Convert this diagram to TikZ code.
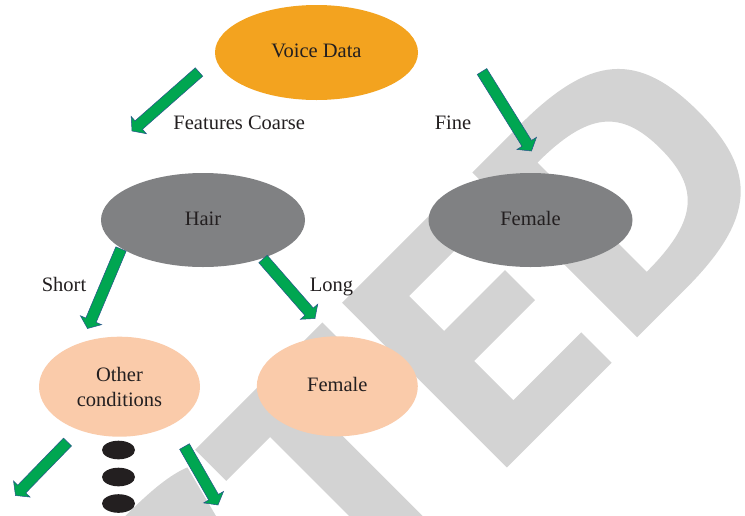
\documentclass[tikz,border=0pt]{standalone}
\usepackage{fontspec}
\setmainfont{Liberation Serif}
\usetikzlibrary{calc,shapes.geometric}

\definecolor{wmgrey}{RGB}{211,211,211}
\definecolor{voiceorange}{RGB}{243,163,31}
\definecolor{nodegrey}{RGB}{128,129,131}
\definecolor{peach}{RGB}{250,203,170}
\definecolor{arrowgreen}{RGB}{0,166,81}
\definecolor{arrowedge}{RGB}{38,84,140}
\definecolor{inkdark}{RGB}{35,31,32}

% block arrow from tail #1 to tip #2
\newcommand{\blockarrow}[2]{%
  \coordinate (hb) at ($(#2)!9pt!(#1)$);
  \filldraw[blockarr]
    ($(#1)!5.6pt!90:(#2)$) -- ($(hb)!5.6pt!90:(#2)$) -- ($(hb)!11.5pt!90:(#2)$)
    -- (#2)
    -- ($(hb)!11.5pt!-90:(#2)$) -- ($(hb)!5.6pt!-90:(#2)$) -- ($(#1)!5.6pt!-90:(#2)$)
    -- cycle;
}

\tikzset{
  txt/.style={text=inkdark, font=\fontsize{20.5}{25}\selectfont},
  bubble/.style={ellipse, inner sep=0pt, txt},
  oneline/.style={text height=14pt, text depth=4pt},
  voice/.style={bubble, oneline, fill=voiceorange, minimum width=203pt, minimum height=95pt},
  darkbubble/.style={bubble, oneline, fill=nodegrey, minimum width=204pt, minimum height=94pt},
  lightbubble/.style={bubble, fill=peach, minimum width=161pt, minimum height=100pt},
  edgelabel/.style={txt, inner sep=0pt, anchor=base},
  blockarr/.style={fill=arrowgreen, draw=arrowedge, line width=0.5pt, line join=miter},
  dotmark/.style={ellipse, fill=inkdark, minimum width=33pt, minimum height=18.6pt, inner sep=0pt},
  wmletter/.style={fill=wmgrey},
  wmframe/.style={shift={(487.2,487.2)}, x={(0.7071pt,0.7071pt)}, y={(-0.7071pt,0.7071pt)}},
}

\begin{document}
\begin{tikzpicture}[x=1pt, y=-1pt]
\useasboundingbox (0,0) rectangle (745,515);
\fill[white] (0,0) rectangle (745,515);

% slanted stamp lettering in the background
\begin{scope}
  \clip (0,0) rectangle (745,515);
  \begin{scope}[wmframe]
    % C (upper terminal only)
    \fill[wmletter] (-198,226) .. controls (-215,233) and (-240,235.5) .. (-275,235.5)
      -- (-345,235.5) -- (-345,100) -- (-212,100) -- (-212,172) -- cycle;
    % T
    \fill[wmletter] (-180,233) -- (0,233) -- (0,189) -- (-66,189) -- (-66,-10)
      -- (-118,-10) -- (-118,189) -- (-180,189) -- cycle;
    % E
    \fill[wmletter] (27.9,0) -- (176,0) -- (176,43) -- (80,43) -- (80,98.5) -- (166,98.5)
      -- (166,141) -- (80,141) -- (80,190.4) -- (172,190.4) -- (172,233) -- (27.9,233) -- cycle;
    % D
    \fill[wmletter, even odd rule]
      (212,0) -- (280,0) .. controls (378.7,0) and (415,31.3) .. (415,116.5)
      .. controls (415,201.7) and (378.7,233) .. (280,233) -- (212,233) -- cycle
      (265,39.5) .. controls (335.9,39.5) and (362,60.3) .. (362,116.75)
      .. controls (362,173.2) and (335.9,194) .. (265,194) -- cycle;
  \end{scope}
\end{scope}

% tree nodes
\node[voice] (voice) at (316.5,52.5) {Voice Data};
\node[darkbubble] (hair) at (203,220) {Hair};
\node[darkbubble] (femfine) at (530.5,220) {Female};
\node[lightbubble, align=center] (other) at (119.5,386.7) {Other\\conditions};
\node[lightbubble, oneline] (femlong) at (337.3,386.3) {Female};

% branch labels
\node[edgelabel] (coarse) at (239.2,129.5) {Features Coarse};
\node[edgelabel] (finelbl) at (453,129.5) {Fine};
\node[edgelabel] (short) at (64,291.5) {Short};
\node[edgelabel] (long) at (331.5,291) {Long};

% continuation dots
\node[dotmark] (dot1) at (118.5,450) {};
\node[dotmark] (dot2) at (118.5,477) {};
\node[dotmark] (dot3) at (118.5,503.5) {};

% arrow end points
\coordinate (a1t) at (199,72);    \coordinate (a1h) at (132,131);
\coordinate (a2t) at (482,71.5);  \coordinate (a2h) at (531.5,151);
\coordinate (a3t) at (121,249);   \coordinate (a3h) at (87.5,328.5);
\coordinate (a4t) at (263,259);   \coordinate (a4h) at (315,318.5);
\coordinate (a5t) at (67.5,442);  \coordinate (a5h) at (15.5,495.5);
\coordinate (a6t) at (184.5,446.5); \coordinate (a6h) at (218,505);

\blockarrow{a1t}{a1h}
\blockarrow{a2t}{a2h}
\blockarrow{a3t}{a3h}
\blockarrow{a4t}{a4h}
\blockarrow{a5t}{a5h}
\blockarrow{a6t}{a6h}
\end{tikzpicture}
\end{document}
